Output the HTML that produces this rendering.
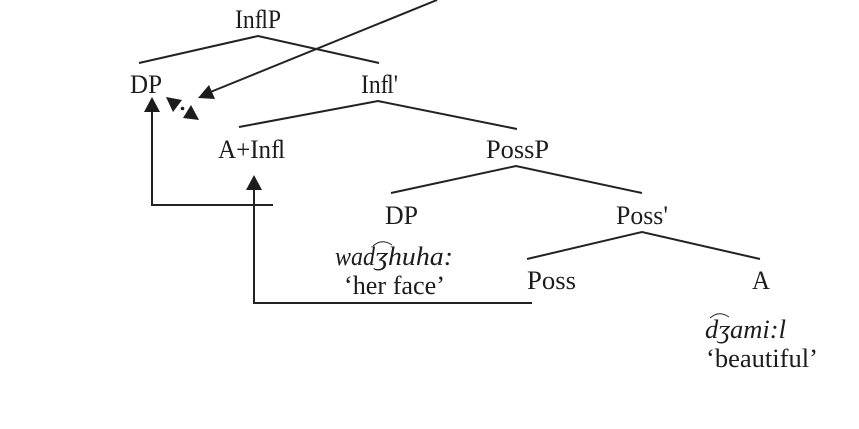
<!DOCTYPE html>
<html>
<head>
<meta charset="utf-8">
<style>
html,body{margin:0;padding:0;background:#fff;width:859px;height:429px;overflow:hidden}
svg{display:block}
text{font-family:"Liberation Serif","DejaVu Serif",serif;font-size:26px;fill:#1c1c1c}
.i{font-style:italic}
line,polyline,path.l{stroke:#222;stroke-width:2;fill:none}
</style>
</head>
<body>
<svg width="859" height="429" viewBox="0 0 859 429" xmlns="http://www.w3.org/2000/svg">
<polyline points="139,63 258,36 379,63"/>
<polyline points="239,127 378,101 517,129"/>
<polyline points="391,193 516,166 642,193"/>
<polyline points="527,259 642,232 760,259"/>
<line x1="437" y1="0" x2="208" y2="93"/>
<polygon points="198,98 209,85 215,99" fill="#1c1c1c"/>
<polyline points="273,205 152,205 152,108"/>
<polygon points="152,97 144,112 160,112" fill="#1c1c1c"/>
<polyline points="532,303 254,303 254,186"/>
<polygon points="254,175 246,190 262,190" fill="#1c1c1c"/>
<polygon points="166,97 182,100 173,112" fill="#1c1c1c"/>
<polygon points="199,120 183,118 191,105" fill="#1c1c1c"/>
<circle cx="182.500" cy="108.500" r="1.800" fill="#1c1c1c"/>
<text x="235" y="28" textLength="46" lengthAdjust="spacingAndGlyphs">InﬂP</text>
<text x="130" y="93" textLength="32" lengthAdjust="spacingAndGlyphs">DP</text>
<text x="361" y="93" textLength="37" lengthAdjust="spacingAndGlyphs">Inﬂ'</text>
<text x="218" y="158" textLength="67" lengthAdjust="spacingAndGlyphs">A+Inﬂ</text>
<text x="486" y="158" textLength="63" lengthAdjust="spacingAndGlyphs">PossP</text>
<text x="385" y="224" textLength="33" lengthAdjust="spacingAndGlyphs">DP</text>
<text x="616" y="224" textLength="52" lengthAdjust="spacingAndGlyphs">Poss'</text>
<text x="335" y="265" class="i" textLength="40" lengthAdjust="spacingAndGlyphs">wad</text>
<text x="375" y="265" class="i" textLength="13" lengthAdjust="spacingAndGlyphs">ʒ</text>
<text x="388" y="265" class="i" textLength="65" lengthAdjust="spacingAndGlyphs">huha:</text>
<path class="l" d="M373 246 Q382 238 392 245" style="stroke-width:1"/>
<text x="344" y="294" textLength="101" lengthAdjust="spacingAndGlyphs">‘her face’</text>
<text x="527" y="289" textLength="49" lengthAdjust="spacingAndGlyphs">Poss</text>
<text x="752" y="289" textLength="18" lengthAdjust="spacingAndGlyphs">A</text>
<text x="705" y="338" class="i" textLength="81" lengthAdjust="spacingAndGlyphs">dʒami:l</text>
<path class="l" d="M710 318 Q719 310 729 317" style="stroke-width:1"/>
<text x="706" y="367" textLength="112" lengthAdjust="spacingAndGlyphs">‘beautiful’</text>
</svg>
</body>
</html>
